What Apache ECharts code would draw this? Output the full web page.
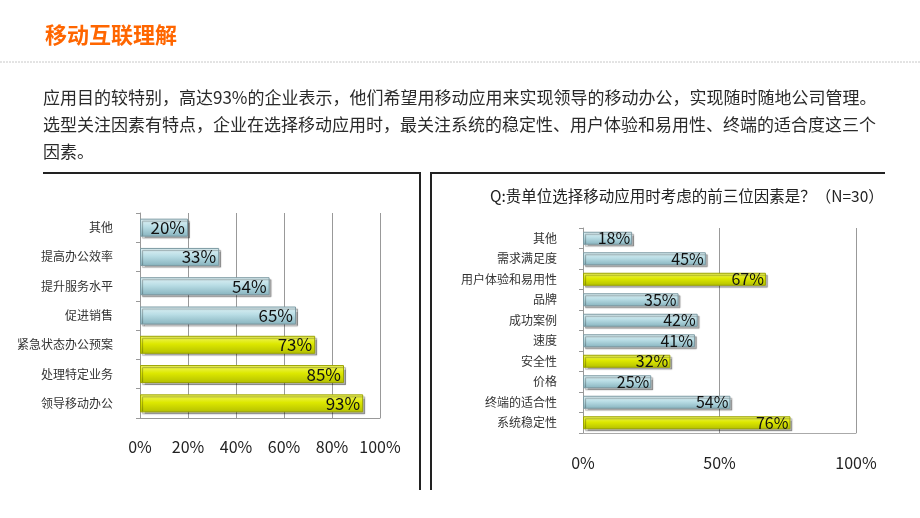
<!DOCTYPE html>
<html><head><meta charset="utf-8">
<script src="https://cdn.jsdelivr.net/npm/echarts@6/dist/echarts.min.js"></script>
<style>html,body{margin:0;padding:0;background:#fff}#c{width:920px;height:518px}</style>
</head><body><div id="c"></div>
<script>
const pageTitle = '移动互联理解';
const paragraph = [
  '应用目的较特别，高达93%的企业表示，他们希望用移动应用来实现领导的移动办公，实现随时随地公司管理。',
  '选型关注因素有特点，企业在选择移动应用时，最关注系统的稳定性、用户体验和易用性、终端的适合度这三个',
  '因素。'
];
const leftCategories = ['其他','提高办公效率','提升服务水平','促进销售','紧急状态办公预案','处理特定业务','领导移动办公'];
const leftValues = [20,33,54,65,73,85,93];
const leftHighlight = [false,false,false,false,true,true,true];
const leftTicks = [0,20,40,60,80,100];

const rightTitle = 'Q:贵单位选择移动应用时考虑的前三位因素是？（N=30）';
const rightCategories = ['其他','需求满足度','用户体验和易用性','品牌','成功案例','速度','安全性','价格','终端的适合性','系统稳定性'];
const rightValues = [18,45,67,35,42,41,32,25,54,76];
const rightHighlight = [false,false,true,false,false,false,true,false,false,true];
const rightTicks = [0,50,100];

const FONT = '"Noto Sans CJK SC", sans-serif';
const blueGrad = new echarts.graphic.LinearGradient(0,0,0,1,[
  {offset:0,color:'#e2f3f6'},{offset:0.45,color:'#b9dde5'},{offset:1,color:'#87b3be'}]);
const yellowGrad = new echarts.graphic.LinearGradient(0,0,0,1,[
  {offset:0,color:'#f2f76a'},{offset:0.45,color:'#dde800'},{offset:1,color:'#b3bf00'}]);

function barData(vals, hl){
  return vals.map((v,i)=>({value:v,itemStyle:{color: hl[i]?yellowGrad:blueGrad, borderColor: hl[i]?'#9aa300':'#7d9aa3'}}));
}

const chart = echarts.init(document.getElementById('c'));
chart.setOption({
  animation:false,
  textStyle:{fontFamily:FONT},
  grid:[
    {left:140, width:240, top:213, height:205},
    {left:583, width:273, top:228, height:205}
  ],
  xAxis:[
    {gridIndex:0, type:'value', min:0, max:100, interval:20,
      axisLine:{show:true,lineStyle:{color:'#999'}}, axisTick:{show:false},
      splitLine:{show:true,lineStyle:{color:'#999'}},
      axisLabel:{formatter:'{value}%', fontSize:16, color:'#222', margin:21, fontFamily:FONT,
        customValues:leftTicks}},
    {gridIndex:1, type:'value', min:0, max:100, interval:50,
      axisLine:{show:true,lineStyle:{color:'#aaa'}}, axisTick:{show:false},
      splitLine:{show:true,lineStyle:{color:'#999'}},
      axisLabel:{formatter:'{value}%', fontSize:16, color:'#222', margin:22, fontFamily:FONT,
        customValues:rightTicks}}
  ],
  yAxis:[
    {gridIndex:0, type:'category', data:leftCategories, inverse:true,
      axisLine:{show:true,lineStyle:{color:'#999'}}, axisTick:{show:true,length:4,lineStyle:{color:'#999'}},
      axisLabel:{fontSize:12, color:'#333', margin:27, fontFamily:FONT}},
    {gridIndex:1, type:'category', data:rightCategories, inverse:true,
      axisLine:{show:true,lineStyle:{color:'#999'}}, axisTick:{show:true,length:4,lineStyle:{color:'#999'}},
      axisLabel:{fontSize:12, color:'#333', margin:26, fontFamily:FONT}}
  ],
  series:[
    {type:'bar', xAxisIndex:0, yAxisIndex:0, barWidth:18, data:barData(leftValues,leftHighlight),
      itemStyle:{borderWidth:1, shadowColor:'rgba(0,0,0,0.3)', shadowOffsetX:2, shadowOffsetY:2, shadowBlur:1},
      label:{show:true, position:'insideRight', formatter:'{c}%', fontSize:17, color:'#111', distance:3, fontFamily:FONT}},
    {type:'bar', xAxisIndex:1, yAxisIndex:1, barWidth:13, data:barData(rightValues,rightHighlight),
      itemStyle:{borderWidth:1, shadowColor:'rgba(0,0,0,0.3)', shadowOffsetX:2, shadowOffsetY:2, shadowBlur:1},
      label:{show:true, position:'insideRight', formatter:'{c}%', fontSize:16, color:'#111', distance:2, fontFamily:FONT}}
  ],
  graphic:[
    {type:'text', left:45, top:24, style:{text:pageTitle, fill:'#ff6600', font:'bold 22px '+FONT}},
    {type:'line', shape:{x1:0,y1:62,x2:920,y2:62}, style:{stroke:'#c8c8c8', lineWidth:1, lineDash:[2,1]}},
    {type:'text', left:43, top:84, style:{text:paragraph.join('\n'), fill:'#2a2a2a', font:'17px '+FONT, lineHeight:27}},
    {type:'polyline', shape:{points:[[43,173],[420,173],[420,490]]}, style:{stroke:'#222', lineWidth:2, fill:null}},
    {type:'polyline', shape:{points:[[431,490],[431,173],[885,173]]}, style:{stroke:'#222', lineWidth:2, fill:null}},
    {type:'text', left:490, top:188, style:{text:rightTitle, fill:'#222', font:'15.5px '+FONT}}
  ]
});
</script></body></html>
